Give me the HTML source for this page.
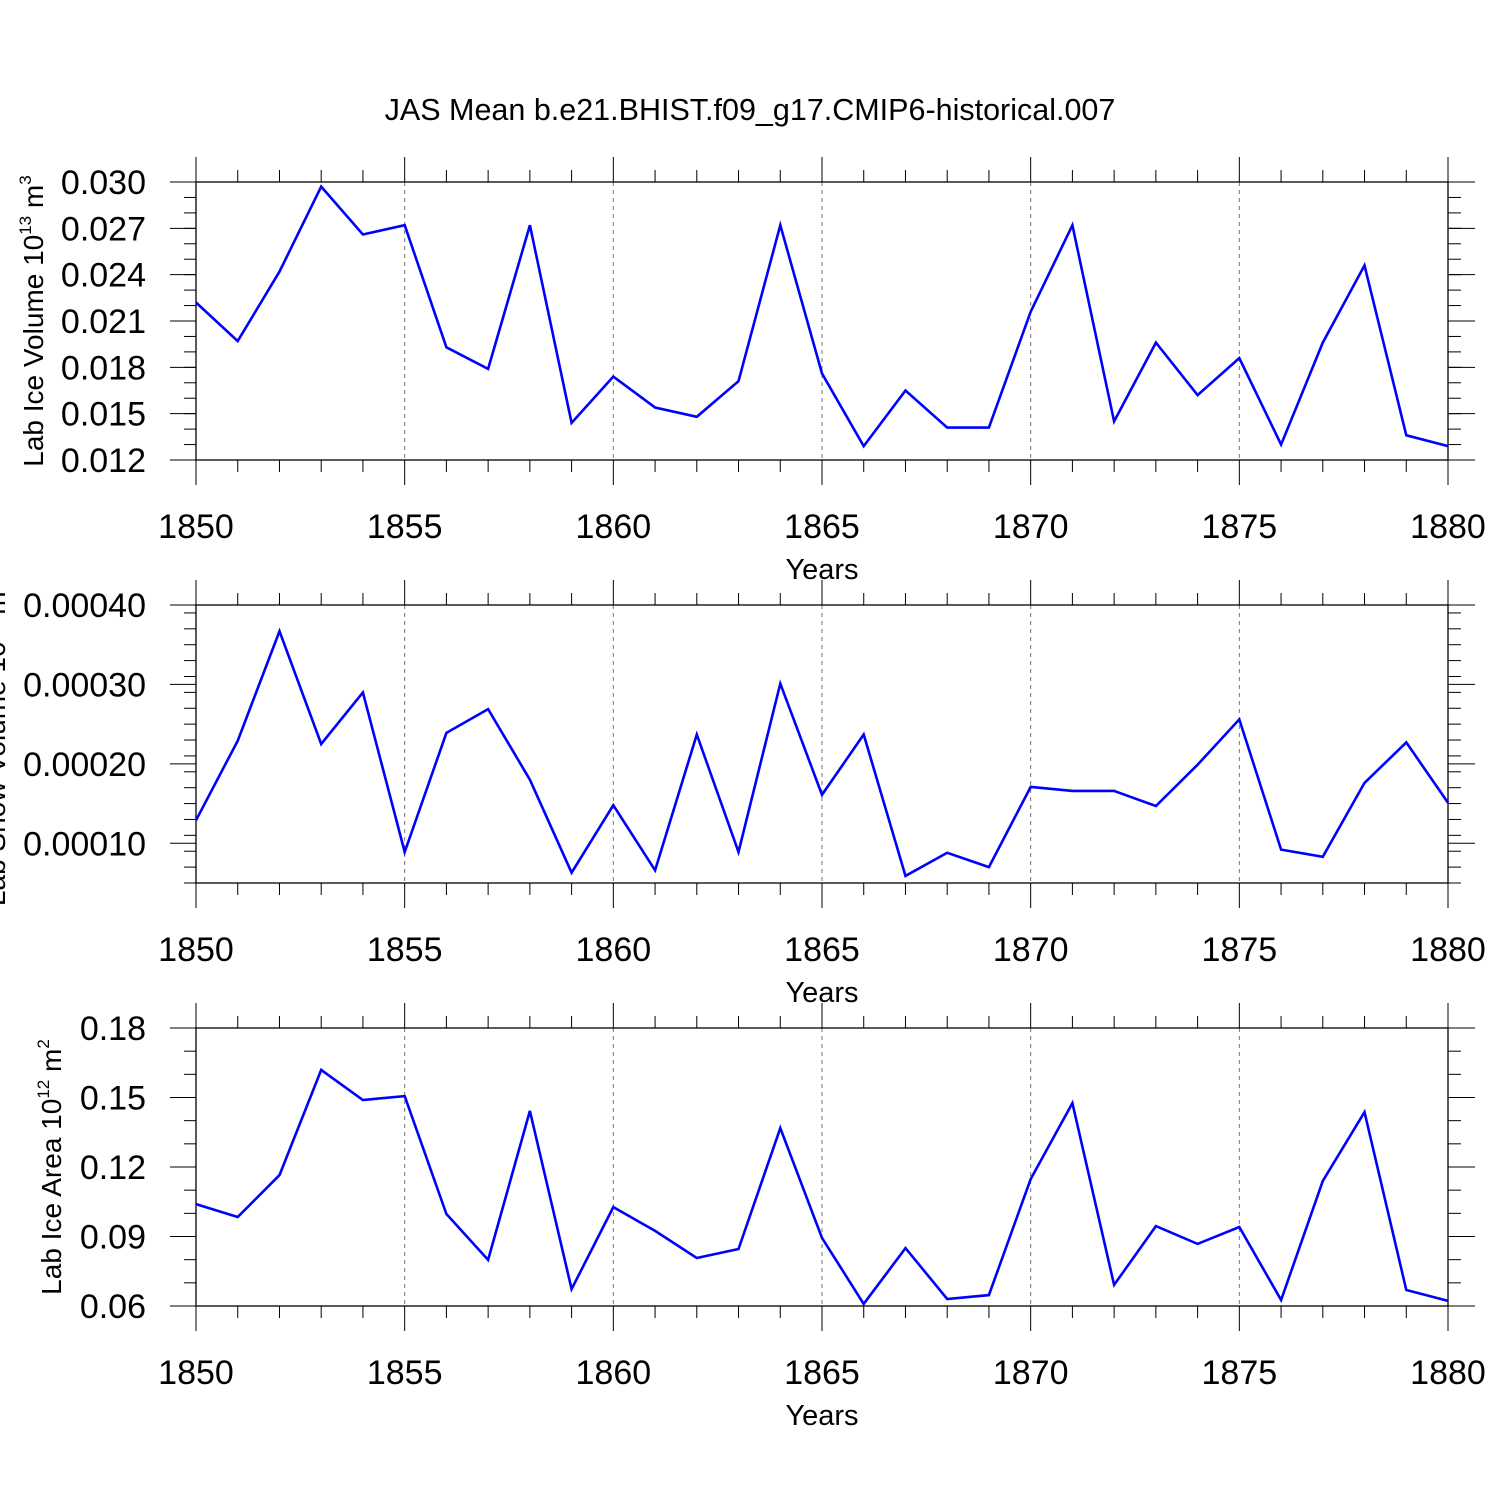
<!DOCTYPE html>
<html><head><meta charset="utf-8"><style>
html,body{margin:0;padding:0;background:#fff;}
svg{display:block;font-family:"Liberation Sans",sans-serif;}
</style></head><body>
<svg id="chart" width="1500" height="1500" viewBox="0 0 1500 1500" xmlns="http://www.w3.org/2000/svg">
<text x="750" y="120" font-size="30.5" text-anchor="middle">JAS Mean b.e21.BHIST.f09_g17.CMIP6-historical.007</text>
</svg>
<script>
const years = [1850,1851,1852,1853,1854,1855,1856,1857,1858,1859,1860,1861,1862,1863,1864,1865,1866,1867,1868,1869,1870,1871,1872,1873,1874,1875,1876,1877,1878,1879,1880];
const iceVolume = [0.0222,0.0197,0.0242,0.0297,0.0266,0.0272,0.0193,0.0179,0.0272,0.0144,0.0174,0.0154,0.0148,0.0171,0.0272,0.0176,0.0129,0.0165,0.0141,0.0141,0.0216,0.0272,0.0145,0.0196,0.0162,0.0186,0.0130,0.0196,0.0246,0.0136,0.0129];
const snowVolume = [0.000129,0.000229,0.000367,0.000225,0.000290,0.000089,0.000239,0.000269,0.000180,0.000063,0.000148,0.000066,0.000237,0.000089,0.000301,0.000161,0.000237,0.000059,0.000088,0.000070,0.000171,0.000166,0.000166,0.000147,0.000199,0.000256,0.000092,0.000083,0.000176,0.000227,0.000151];
const iceArea = [0.1040,0.0984,0.1165,0.1619,0.1489,0.1506,0.0997,0.0799,0.1442,0.0673,0.1027,0.0924,0.0807,0.0846,0.1368,0.0894,0.0609,0.0850,0.0630,0.0647,0.1148,0.1476,0.0691,0.0945,0.0868,0.0941,0.0626,0.1140,0.1437,0.0669,0.0622];
const xTickLabels = ["1850","1855","1860","1865","1870","1875","1880"];
const yTicks1 = ["0.012","0.015","0.018","0.021","0.024","0.027","0.030"];
const yTicks2 = ["0.00010","0.00020","0.00030","0.00040"];
const yTicks3 = ["0.06","0.09","0.12","0.15","0.18"];

const NS="http://www.w3.org/2000/svg";
const svg=document.getElementById('chart');
function mk(tag,attrs,parent){const e=document.createElementNS(NS,tag);for(const k in attrs)e.setAttribute(k,attrs[k]);(parent||svg).appendChild(e);return e;}
const X0=196,X1=1448;
const xScale=y=>X0+(y-1850)/30*(X1-X0);

function panel(name,top,bottom,ymin,ymax,data,yTicks,minorStep,titleParts,titleX){
  const g=mk('g',{});
  
  
  const ys=v=>bottom-(v-ymin)/(ymax-ymin)*(bottom-top);
  for(let yr=1855;yr<=1875;yr+=5){
    const l=mk('line',{x1:xScale(yr),x2:xScale(yr),y1:top,y2:bottom,stroke:'#777','stroke-width':1,'stroke-dasharray':'4,4'},g);
    
    
  }
  const fr=mk('rect',{x:X0,y:top,width:X1-X0,height:bottom-top,fill:'none',stroke:'#000','stroke-width':1.3},g);
  
  
  for(let yr=1850;yr<=1880;yr++){
    const major=(yr%5===0);const len=major?25:12;const x=xScale(yr);
    mk('line',{x1:x,x2:x,y1:top,y2:top-len,stroke:'#000','stroke-width':1},g);
    mk('line',{x1:x,x2:x,y1:bottom,y2:bottom+len,stroke:'#000','stroke-width':1},g);
  }
  xTickLabels.forEach(s=>{
    const t=mk('text',{x:xScale(+s),y:bottom+78,'font-size':34,'text-anchor':'middle'},g);
    
    
    t.textContent=s;
  });
  const xt=mk('text',{x:822,y:bottom+119,'font-size':29,'text-anchor':'middle'},g);
  
  
  xt.textContent='Years';
  for(let v=ymin;v<=ymax+1e-12;v+=minorStep){
    const y=ys(v);if(y<top-0.5||y>bottom+0.5)continue;
    mk('line',{x1:X0,x2:X0-12,y1:y,y2:y,stroke:'#000','stroke-width':1},g);
    mk('line',{x1:X1,x2:X1+13,y1:y,y2:y,stroke:'#000','stroke-width':1},g);
  }
  yTicks.forEach(s=>{
    const y=ys(+s);
    mk('line',{x1:X0,x2:X0-26,y1:y,y2:y,stroke:'#000','stroke-width':1},g);
    mk('line',{x1:X1,x2:X1+27,y1:y,y2:y,stroke:'#000','stroke-width':1},g);
    const t=mk('text',{x:146,y:y+12,'font-size':34,'text-anchor':'end'},g);
    
    
    t.textContent=s;
  });
  const cy=(top+bottom)/2;
  const yt=mk('text',{x:titleX,y:cy,'font-size':28,'text-anchor':'middle',transform:`rotate(-90 ${titleX} ${cy})`},g);
  
  
  yt.appendChild(document.createTextNode(titleParts[0]));
  const s1=mk('tspan',{'font-size':17,dy:-12},yt);s1.textContent=titleParts[1];
  const s2=mk('tspan',{dy:12},yt);s2.textContent=titleParts[2];
  const s3=mk('tspan',{'font-size':17,dy:-12},yt);s3.textContent=titleParts[3];
  const pts=data.map((v,i)=>xScale(years[i]).toFixed(1)+','+ys(v).toFixed(1)).join(' ');
  const pl=mk('polyline',{points:pts,fill:'none',stroke:'#0000ff','stroke-width':2.6,'stroke-linejoin':'miter'},g);
  
  
}
panel('ice-volume',182,460,0.012,0.030,iceVolume,yTicks1,0.001,['Lab Ice Volume 10','13',' m','3'],43);
panel('snow-volume',605,883,0.00005,0.00040,snowVolume,yTicks2,0.00002,['Lab Snow Volume 10','13',' m','3'],5);
panel('ice-area',1028,1306,0.06,0.18,iceArea,yTicks3,0.01,['Lab Ice Area 10','12',' m','2'],61);
</script>
</body></html>
